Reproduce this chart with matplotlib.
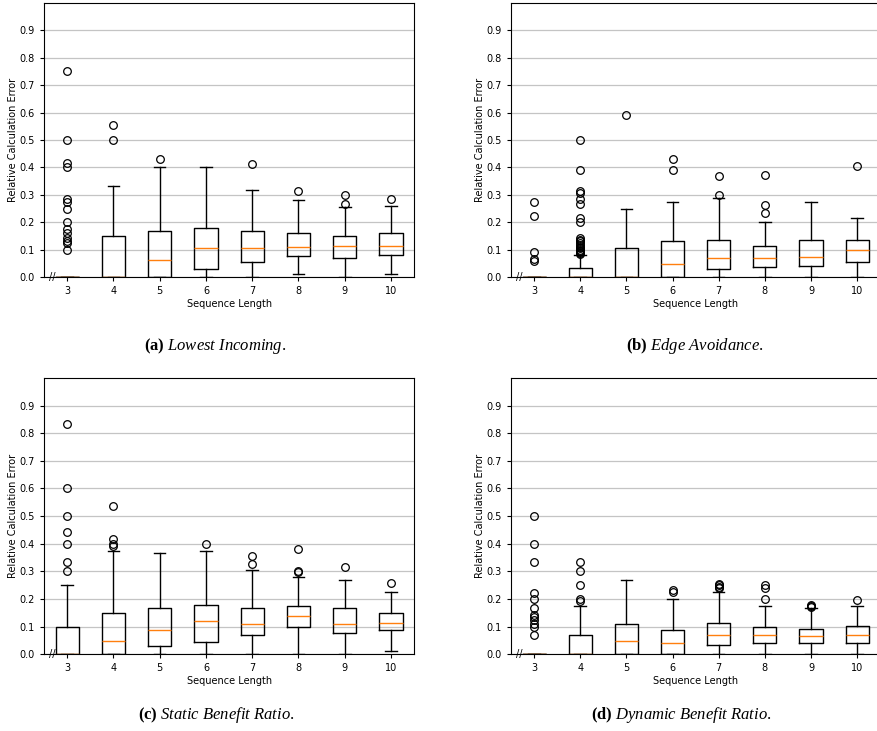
import matplotlib
matplotlib.use("Agg")
import matplotlib.pyplot as plt

# ---------------- data ----------------
SEQ_LENGTHS = [3, 4, 5, 6, 7, 8, 9, 10]
Y_TICKS = [0.0, 0.1, 0.2, 0.3, 0.4, 0.5, 0.6, 0.7, 0.8, 0.9]
X_LABEL = "Sequence Length"
Y_LABEL = "Relative Calculation Error"

# (a) Lowest Incoming
LI_Q1 = [0, 0, 0, 0.03, 0.055, 0.078, 0.07, 0.082]
LI_MED = [0, 0, 0.062, 0.106, 0.105, 0.111, 0.114, 0.113]
LI_Q3 = [0, 0.15, 0.167, 0.179, 0.167, 0.159, 0.148, 0.16]
LI_LO = [0, 0, 0, 0, 0, 0.01, 0, 0.012]
LI_HI = [0, 0.333, 0.4, 0.4, 0.317, 0.281, 0.254, 0.26]
LI_FLIERS = [
    [0.75, 0.5, 0.417, 0.4, 0.286, 0.273, 0.25, 0.2, 0.177, 0.16, 0.144, 0.133, 0.124, 0.1],
    [0.556, 0.5],
    [0.429],
    [],
    [0.413],
    [0.3125],
    [0.298, 0.268],
    [0.284],
]

# (b) Edge Avoidance
EA_Q1 = [0, 0, 0, 0, 0.029, 0.036, 0.041, 0.054]
EA_MED = [0, 0, 0, 0.048, 0.071, 0.07, 0.072, 0.098]
EA_Q3 = [0, 0.033, 0.105, 0.131, 0.136, 0.114, 0.136, 0.136]
EA_LO = [0, 0, 0, 0, 0, 0, 0, 0]
EA_HI = [0, 0.08, 0.25, 0.275, 0.288, 0.202, 0.274, 0.214]
EA_FLIERS = [
    [0.273, 0.222, 0.091, 0.067, 0.059],
    [0.5, 0.389, 0.313, 0.308, 0.286, 0.267, 0.214, 0.2, 0.143, 0.136, 0.13,
     0.125, 0.118, 0.111, 0.105, 0.1, 0.095, 0.091, 0.087, 0.083],
    [0.592],
    [0.432, 0.392],
    [0.367, 0.3],
    [0.371, 0.262, 0.233],
    [],
    [0.405],
]

# (c) Static Benefit Ratio
SB_Q1 = [0, 0, 0.03, 0.045, 0.07, 0.097, 0.077, 0.088]
SB_MED = [0, 0.048, 0.088, 0.119, 0.111, 0.137, 0.108, 0.114]
SB_Q3 = [0.1, 0.15, 0.167, 0.18, 0.166, 0.174, 0.167, 0.151]
SB_LO = [0, 0, 0, 0, 0, 0, 0, 0.013]
SB_HI = [0.25, 0.375, 0.368, 0.372, 0.305, 0.28, 0.269, 0.227]
SB_FLIERS = [
    [0.833, 0.6, 0.5, 0.444, 0.4, 0.333, 0.3],
    [0.538, 0.417, 0.4, 0.393],
    [],
    [0.4],
    [0.357, 0.326],
    [0.381, 0.3, 0.296],
    [0.315],
    [0.259],
]

# (d) Dynamic Benefit Ratio
DB_Q1 = [0, 0, 0, 0, 0.033, 0.04, 0.041, 0.041]
DB_MED = [0, 0, 0.048, 0.041, 0.068, 0.068, 0.067, 0.071]
DB_Q3 = [0, 0.071, 0.111, 0.088, 0.113, 0.1, 0.092, 0.102]
DB_LO = [0, 0, 0, 0, 0, 0, 0, 0]
DB_HI = [0, 0.176, 0.27, 0.2, 0.225, 0.176, 0.168, 0.173]
DB_FLIERS = [
    [0.5, 0.4, 0.333, 0.222, 0.2, 0.167, 0.143, 0.133, 0.125, 0.111, 0.1, 0.071],
    [0.333, 0.3, 0.25, 0.2, 0.193],
    [],
    [0.233, 0.226],
    [0.256, 0.25, 0.244, 0.238],
    [0.25, 0.238, 0.2],
    [0.177, 0.174, 0.17],
    [0.195],
]

CAPTION_TAGS = ["(a)", "(b)", "(c)", "(d)"]
CAPTION_NAMES = ["Lowest Incoming", "Edge Avoidance",
                 "Static Benefit Ratio", "Dynamic Benefit Ratio"]

PANELS = [
    (LI_Q1, LI_MED, LI_Q3, LI_LO, LI_HI, LI_FLIERS),
    (EA_Q1, EA_MED, EA_Q3, EA_LO, EA_HI, EA_FLIERS),
    (SB_Q1, SB_MED, SB_Q3, SB_LO, SB_HI, SB_FLIERS),
    (DB_Q1, DB_MED, DB_Q3, DB_LO, DB_HI, DB_FLIERS),
]

# ---------------- style ----------------
plt.rcParams["font.family"] = ["DejaVu Sans"]
plt.rcParams["mathtext.fontset"] = "custom"
plt.rcParams["mathtext.rm"] = "Liberation Serif"
plt.rcParams["mathtext.it"] = "Liberation Serif:italic"
plt.rcParams["mathtext.bf"] = "Liberation Serif:bold"

fig = plt.figure(figsize=(8.77, 7.31), dpi=100)

AX_RECTS = [
    [0.0502, 0.621, 0.422, 0.375],
    [0.5827, 0.621, 0.421, 0.375],
    [0.0502, 0.105, 0.422, 0.378],
    [0.5827, 0.105, 0.421, 0.378],
]
CAPTION_POS = [(0.245, 0.527), (0.792, 0.527), (0.247, 0.022), (0.777, 0.022)]

for i, (q1s, meds, q3s, los, his, fls) in enumerate(PANELS):
    ax = fig.add_axes(AX_RECTS[i])
    stats = []
    for k, lab in enumerate(SEQ_LENGTHS):
        stats.append(dict(q1=q1s[k], med=meds[k], q3=q3s[k],
                          whislo=los[k], whishi=his[k], fliers=fls[k],
                          label=str(lab)))
    ax.bxp(stats, positions=SEQ_LENGTHS, widths=0.5, showfliers=True,
           boxprops=dict(color="black", linewidth=1.0),
           whiskerprops=dict(color="black", linewidth=1.0),
           capprops=dict(color="black", linewidth=1.0),
           medianprops=dict(color="#ff7f0e", linewidth=1.0),
           flierprops=dict(marker="o", markerfacecolor="none",
                           markeredgecolor="black", markersize=5.5,
                           markeredgewidth=0.9))
    ax.set_xlim(2.5, 10.5)
    ax.set_ylim(0, 1.0)
    ax.set_yticks(Y_TICKS)
    ax.set_yticklabels([f"{v:.1f}" for v in Y_TICKS])
    ax.set_xticks(SEQ_LENGTHS)
    ax.set_xticklabels([str(v) for v in SEQ_LENGTHS])
    ax.tick_params(labelsize=7, length=3, width=0.8)
    ax.yaxis.grid(True, color="#c4c4c4", linewidth=0.9)
    ax.set_axisbelow(True)
    ax.set_xlabel(X_LABEL, fontsize=7, labelpad=2)
    ax.set_ylabel(Y_LABEL, fontsize=7, labelpad=1.5)
    ax.text(2.67, 0.0, "//", fontsize=7, ha="center", va="center",
            clip_on=False)
    tag = CAPTION_TAGS[i]
    name = CAPTION_NAMES[i].replace(" ", r"\ ")
    fig.text(CAPTION_POS[i][0], CAPTION_POS[i][1],
             r"$\mathbf{" + tag + r"}\ \mathit{" + name + r"}.$",
             fontsize=12, ha="center", va="center")

fig.savefig("out.png", dpi=100)
